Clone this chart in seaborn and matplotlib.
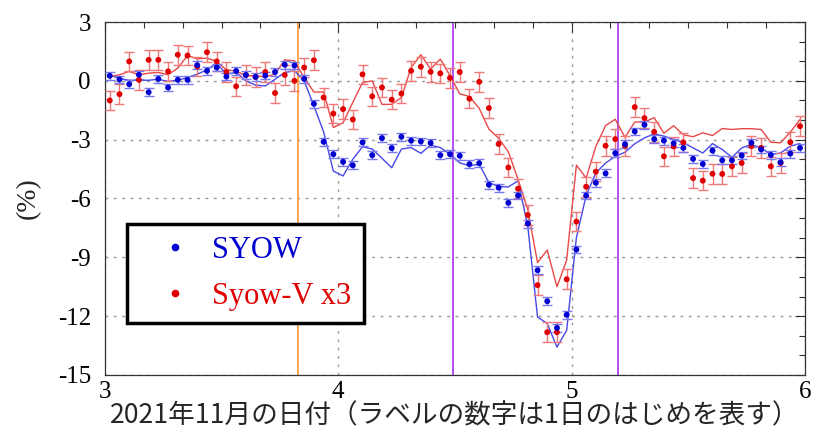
import numpy as np
import pandas as pd
import seaborn as sns
import matplotlib.pyplot as plt
from matplotlib.lines import Line2D
from matplotlib.ticker import MultipleLocator

# hourly values, 3 Nov 00:30 .. 5 Nov 23:30
hour = np.arange(72)

syow_pt = [0.26, 0.07, -0.17, 0.31, -0.58, 0.10, -0.34, 0.05, 0.05, 0.80, 0.51, 0.68,
           0.22, 0.50, 0.30, 0.20, 0.27, 0.45, 0.82, 0.78, 0.10, -1.17, -3.11, -3.74,
           -4.13, -4.31, -3.14, -3.79, -2.92, -3.43, -2.85, -3.05, -3.09, -3.17, -3.79, -3.74,
           -3.82, -4.25, -4.20, -5.30, -5.45, -6.22, -5.85, -7.28, -9.66, -11.24, -12.60, -11.93,
           -8.60, -5.85, -5.20, -4.72, -3.69, -3.23, -2.58, -2.24, -2.97, -3.05, -3.19, -3.42,
           -3.98, -4.24, -3.56, -4.05, -4.05, -3.81, -3.16, -3.50, -3.78, -4.15, -3.71, -3.42]

syowv_pt = [-1.00, -0.68, 0.99, 0.05, 1.07, 1.07, 0.48, 1.33, 1.29, 0.73, 1.46, 0.99,
            0.45, -0.28, 0.30, 0.20, 0.45, -0.62, 0.30, 0.00, 0.68, 1.05, -0.85, -1.67,
            -1.44, -1.97, 0.33, -0.79, -0.34, -0.96, -0.65, 0.51, 0.72, 0.46, 0.38, 0.15,
            0.45, -0.91, -0.05, -1.39, -3.22, -4.42, -5.50, -6.84, -10.42, -12.82, -12.82, -10.12,
            -7.18, -5.40, -4.63, -3.31, -2.97, -3.31, -1.34, -1.90, -2.60, -3.85, -3.35, -3.14,
            -4.96, -5.09, -4.74, -4.75, -4.36, -4.19, -3.33, -3.42, -4.36, -4.19, -3.13, -2.31]

syow_ln = [0.29, 0.12, 0.03, 0.03, 0.03, 0.08, -0.03, 0.03, 0.17, 0.34, 0.56, 0.90,
           0.34, 0.43, 0.00, -0.22, -0.26, 0.08, 0.43, 0.51, 0.00, -1.28, -2.60, -4.60,
           -4.85, -4.00, -3.36, -3.48, -3.95, -4.43, -3.48, -3.40, -3.70, -3.28, -3.40, -3.74,
           -4.18, -4.33, -4.25, -5.19, -5.39, -5.41, -5.10, -7.41, -12.04, -12.38, -13.58, -12.72,
           -8.00, -5.85, -4.70, -4.19, -3.85, -3.64, -3.21, -2.91, -2.70, -2.82, -2.99, -3.16,
           -3.42, -3.68, -3.20, -3.50, -3.90, -3.42, -3.25, -3.42, -3.76, -3.68, -3.33, -3.20]

syowv_ln = [0.22, 0.31, 0.48, 0.31, 0.39, 0.43, 0.31, 0.65, 1.29, 1.12, 1.16, 0.99,
            0.56, 0.50, 0.26, 0.26, 0.20, 0.34, 1.07, 1.02, 0.15, -0.57, -0.57, -2.38,
            -2.14, -1.10, -0.09, 0.00, -1.20, -1.20, -0.85, 0.68, 1.33, 0.60, 1.11, 0.26,
            -0.66, -0.80, -1.40, -2.46, -2.93, -3.62, -5.03, -6.56, -9.27, -8.63, -10.50, -9.14,
            -4.30, -4.95, -3.35, -2.28, -1.96, -2.88, -2.10, -2.10, -1.88, -2.67, -2.29, -2.75,
            -2.85, -2.65, -2.79, -2.43, -2.48, -2.44, -2.44, -2.48, -3.13, -3.16, -2.62, -1.97]

syow_err = 0.2
syowv_err = 0.5
events = [3.827, 4.49, 5.2]
event_colors = ["#ffa040", "#b040f0", "#b040f0"]

df = pd.DataFrame({"day": 3 + (hour + 0.5) / 24,
                   "syow": syow_pt, "syowv": syowv_pt,
                   "syow_ln": syow_ln, "syowv_ln": syowv_ln})

sns.set_theme(style="white")
plt.rcParams['font.family'] = ['Liberation Serif', 'DejaVu Serif']
plt.rcParams['axes.unicode_minus'] = False

fig = plt.figure(figsize=(8.13, 4.36), dpi=100)
ax = fig.add_axes([0.129, 0.14, 0.861, 0.8095])

ax.grid(True, which="major", color="#999999", linestyle=(0, (2, 4)), linewidth=1)
for xv, c in zip(events, event_colors):
    ax.axvline(xv, color=c, linewidth=1.3, zorder=2)

sns.lineplot(data=df, x="day", y="syow_ln", color="#4848e8", linewidth=1, sort=False, ax=ax, zorder=3)
sns.lineplot(data=df, x="day", y="syowv_ln", color="#e84848", linewidth=1, sort=False, ax=ax, zorder=3)

ax.errorbar(df["day"], df["syowv"], yerr=syowv_err, fmt="none", ecolor="#f07878",
            elinewidth=1, capsize=3.5, capthick=1, zorder=4)
ax.errorbar(df["day"], df["syow"], yerr=syow_err, fmt="none", ecolor="#7878f0",
            elinewidth=1, capsize=3.5, capthick=1, zorder=4)
sns.scatterplot(data=df, x="day", y="syowv", color="#e00000", s=18, edgecolor="none", ax=ax, zorder=5)
sns.scatterplot(data=df, x="day", y="syow", color="#0000d0", s=18, edgecolor="none", ax=ax, zorder=6)

ax.set_xlim(3, 6)
ax.set_ylim(-15, 3)
ax.xaxis.set_major_locator(MultipleLocator(1))
ax.xaxis.set_minor_locator(MultipleLocator(1 / 6))
ax.yaxis.set_major_locator(MultipleLocator(3))
ax.yaxis.set_minor_locator(MultipleLocator(1))
ax.tick_params(which="both", direction="in", top=True, right=True, colors="#333333",
               labelcolor="black")
ax.tick_params(which="major", length=7, width=0.8, labelsize=18)
ax.tick_params(which="minor", length=4, width=0.8)
ax.tick_params(axis="x", pad=4)
ax.tick_params(axis="y", pad=10)
for sp in ax.spines.values():
    sp.set_color("#333333")
    sp.set_linewidth(0.9)

ax.set_ylabel("(%)", fontsize=20, labelpad=12, family=["Liberation Serif"])
ax.set_xlabel("2021年11月の日付（ラベルの数字は1日のはじめを表す）", fontsize=19.2,
              family=["Noto Sans CJK JP", "DejaVu Sans"], labelpad=0)

handles = [Line2D([], [], marker="o", linestyle="none", color="#0000d0", markersize=4.5),
           Line2D([], [], marker="o", linestyle="none", color="#e00000", markersize=4.5)]
leg = ax.legend(handles, ["SYOW", "Syow-V x3"], loc="upper left", bbox_to_anchor=(0.031, 0.428),
                fontsize=22, frameon=True, fancybox=False, framealpha=1, edgecolor="black",
                handlelength=2.35, handletextpad=0.05, borderpad=0.4, labelspacing=0.55,
                borderaxespad=0)
leg.get_frame().set_linewidth(2.5)
for t, c in zip(leg.get_texts(), ["#0000d0", "#e00000"]):
    t.set_color(c)

fig.savefig("out.png", dpi=100)
